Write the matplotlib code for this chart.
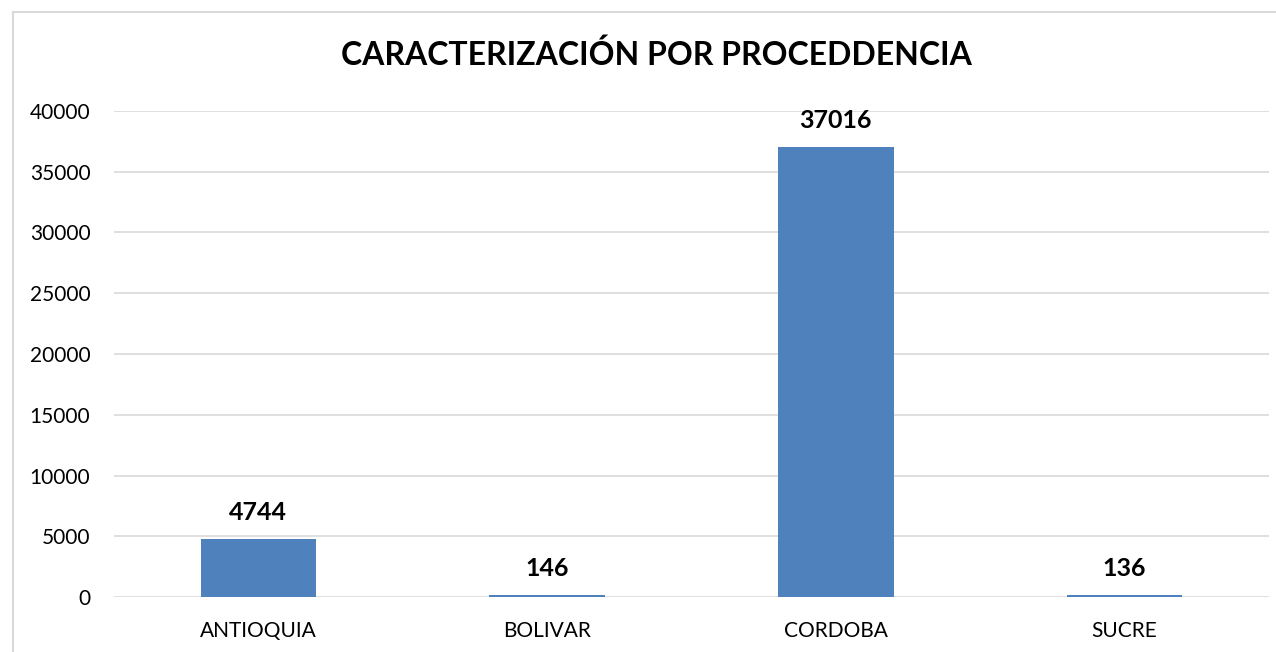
import matplotlib.pyplot as plt
from matplotlib.lines import Line2D

categories = ["ANTIOQUIA", "BOLIVAR", "CORDOBA", "SUCRE"]
values = [4744, 146, 37016, 136]

plt.rcParams["font.family"] = ["Lato", "DejaVu Sans"]

fig = plt.figure(figsize=(12.76, 6.52), dpi=100)
ax = fig.add_axes([114 / 1276, 1 - 597 / 652, 1155 / 1276, 486 / 652])

bar_color = "#4F81BD"
ax.bar(range(len(categories)), values, width=0.4, color=bar_color, zorder=3)

# Data labels
for i, v in enumerate(values):
    ax.annotate(str(v), (i, v), xytext=(0, 19), textcoords="offset points",
                ha="center", va="center", fontsize=18, fontweight="bold", color="black")

ax.set_xlim(-0.5, len(categories) - 0.5)
ax.set_ylim(0, 40000)
ax.set_yticks(range(0, 40001, 5000))
ax.set_xticks(range(len(categories)))
ax.set_xticklabels(categories)
ax.tick_params(axis="both", length=0, labelsize=15, colors="black")
ax.tick_params(axis="y", pad=17)
ax.tick_params(axis="x", pad=17)
ax.grid(axis="y", color="#d9d9d9", linewidth=1.2, zorder=0)
for s in ax.spines.values():
    s.set_visible(False)

fig.text(656 / 1276, 1 - 55 / 652, "CARACTERIZACIÓN POR PROCEDDENCIA",
         ha="center", va="center", fontsize=23, fontweight="bold")

# Chart border (only top and left visible in the frame)
fig.add_artist(Line2D([13 / 1276, 13 / 1276], [0, 1 - 12 / 652], color="#d9d9d9", lw=1.5))
fig.add_artist(Line2D([13 / 1276, 1], [1 - 12 / 652, 1 - 12 / 652], color="#d9d9d9", lw=1.5))

fig.savefig("out.png", dpi=100)
